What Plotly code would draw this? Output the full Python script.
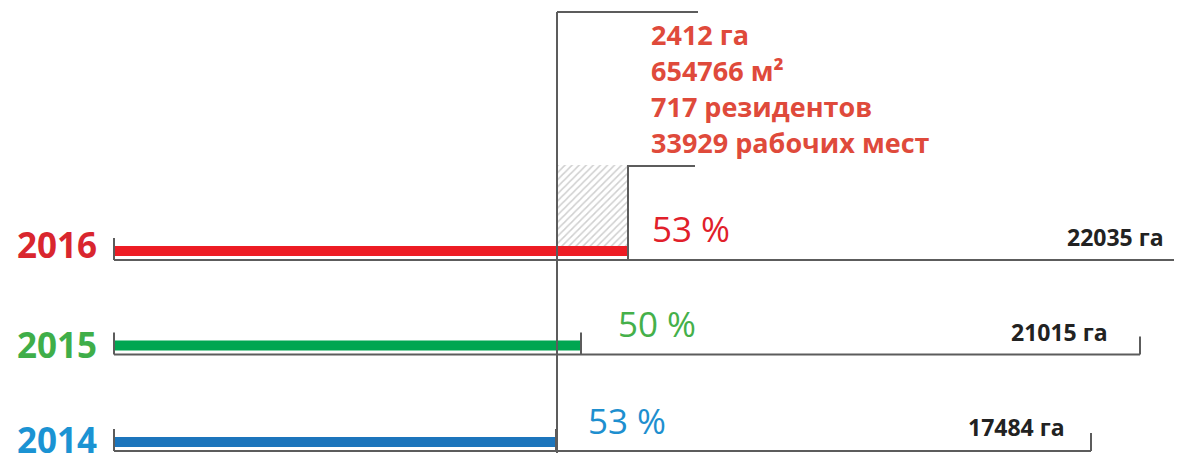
import plotly.graph_objects as go

# ---- data ----
years = ["2014", "2015", "2016"]
bar_len = [442, 467, 514]            # occupied length (chart units)
bracket_len = [977, 1026, 1100]      # total territory length (chart units)
percent_labels = ["53 %", "50 %", "53 %"]
total_labels = ["17484 га", "21015 га", "22035 га"]
ref_len = 443                        # reference line (2014 level)
info_lines = ["2412 га", "654766 м²", "717 резидентов", "33929 рабочих мест"]

# ---- styles / layout ----
year_colors = ["#1b93d3", "#3fae49", "#d9262e"]
bar_colors = ["#1c75bc", "#00a651", "#ed1c24"]
pct_colors = ["#1e8fcf", "#45b04a", "#e1202a"]
info_color = "#df4a3b"
line_color = "#5c5c5c"
X0 = 114
PAD = 8          # page body margin
W, H = 1182, 453
baselines = [451, 354.5, 260]
year_y = [439, 344, 244]
pct_y = [420, 323, 228]
pct_x = [586, 616, 650]
tot_y = [426.5, 331.5, 236.5]
tot_x = [966, 1009, 1065]

fig = go.Figure()

# hatched increment (2016 vs reference)
fig.add_trace(go.Bar(
    orientation="h", base=[ref_len], x=[bar_len[2] - ref_len], y=[(165 + 246) / 2], width=[81],
    marker=dict(color="white", line=dict(width=0),
                pattern=dict(shape="/", fgcolor="#a0a0a0", bgcolor="white", size=5, solidity=0.3)),
    hoverinfo="skip", showlegend=False))

# bars
fig.add_trace(go.Bar(
    orientation="h", base=[0] * 3, x=bar_len, y=[b - 9 for b in baselines], width=[10] * 3,
    marker=dict(color=bar_colors, line=dict(width=0)),
    hoverinfo="skip", showlegend=False))

shapes = []
def line(x0, y0, x1, y1, w=2):
    shapes.append(dict(type="line", xref="x", yref="y", x0=x0, y0=y0, x1=x1, y1=y1,
                       line=dict(color=line_color, width=w), layer="above"))

for i, B in enumerate(baselines):
    line(0, B - 22, 0, B)                       # left tick
    line(0, B, bracket_len[i], B)               # baseline
    if i < 2:
        line(bracket_len[i], B - 18, bracket_len[i], B)   # right tick
        line(bar_len[i], B - 22, bar_len[i], B)           # bar end tick
    else:
        line(bar_len[i], 165, bar_len[i], B)              # bar end to shelf
        line(bar_len[i], 166, 581, 166)                   # shelf

line(ref_len, 12, ref_len, 470)                 # main vertical
line(ref_len, 12, 584, 12)                      # top

annotations = []
for i in range(3):
    annotations.append(dict(x=15 - X0, y=year_y[i], xref="x", yref="y", text=years[i],
                            showarrow=False, xanchor="left", yanchor="middle",
                            font=dict(family="Open Sans", size=35, color=year_colors[i], weight=700)))
    annotations.append(dict(x=pct_x[i] - X0, y=pct_y[i], xref="x", yref="y", text=percent_labels[i],
                            showarrow=False, xanchor="left", yanchor="middle",
                            font=dict(family="Open Sans", size=35, color=pct_colors[i], weight=500)))
    annotations.append(dict(x=tot_x[i] - X0, y=tot_y[i], xref="x", yref="y", text=total_labels[i],
                            showarrow=False, xanchor="left", yanchor="middle",
                            font=dict(family="Open Sans", size=23, color="#222222", weight=700)))
for k, t in enumerate(info_lines):
    annotations.append(dict(x=649 - X0, y=34 + 36 * k, xref="x", yref="y", text=t,
                            showarrow=False, xanchor="left", yanchor="middle",
                            font=dict(family="Open Sans", size=27, color=info_color, weight=700)))

fig.update_layout(
    width=W, height=H, margin=dict(l=0, r=0, t=0, b=0),
    paper_bgcolor="white", plot_bgcolor="white",
    barmode="overlay", showlegend=False,
    xaxis=dict(range=[PAD - X0, W + PAD - X0], visible=False, fixedrange=True),
    yaxis=dict(range=[H + PAD, PAD], visible=False, fixedrange=True),
    shapes=shapes, annotations=annotations,
)
fig.write_html("out.html", config={"displayModeBar": False})
